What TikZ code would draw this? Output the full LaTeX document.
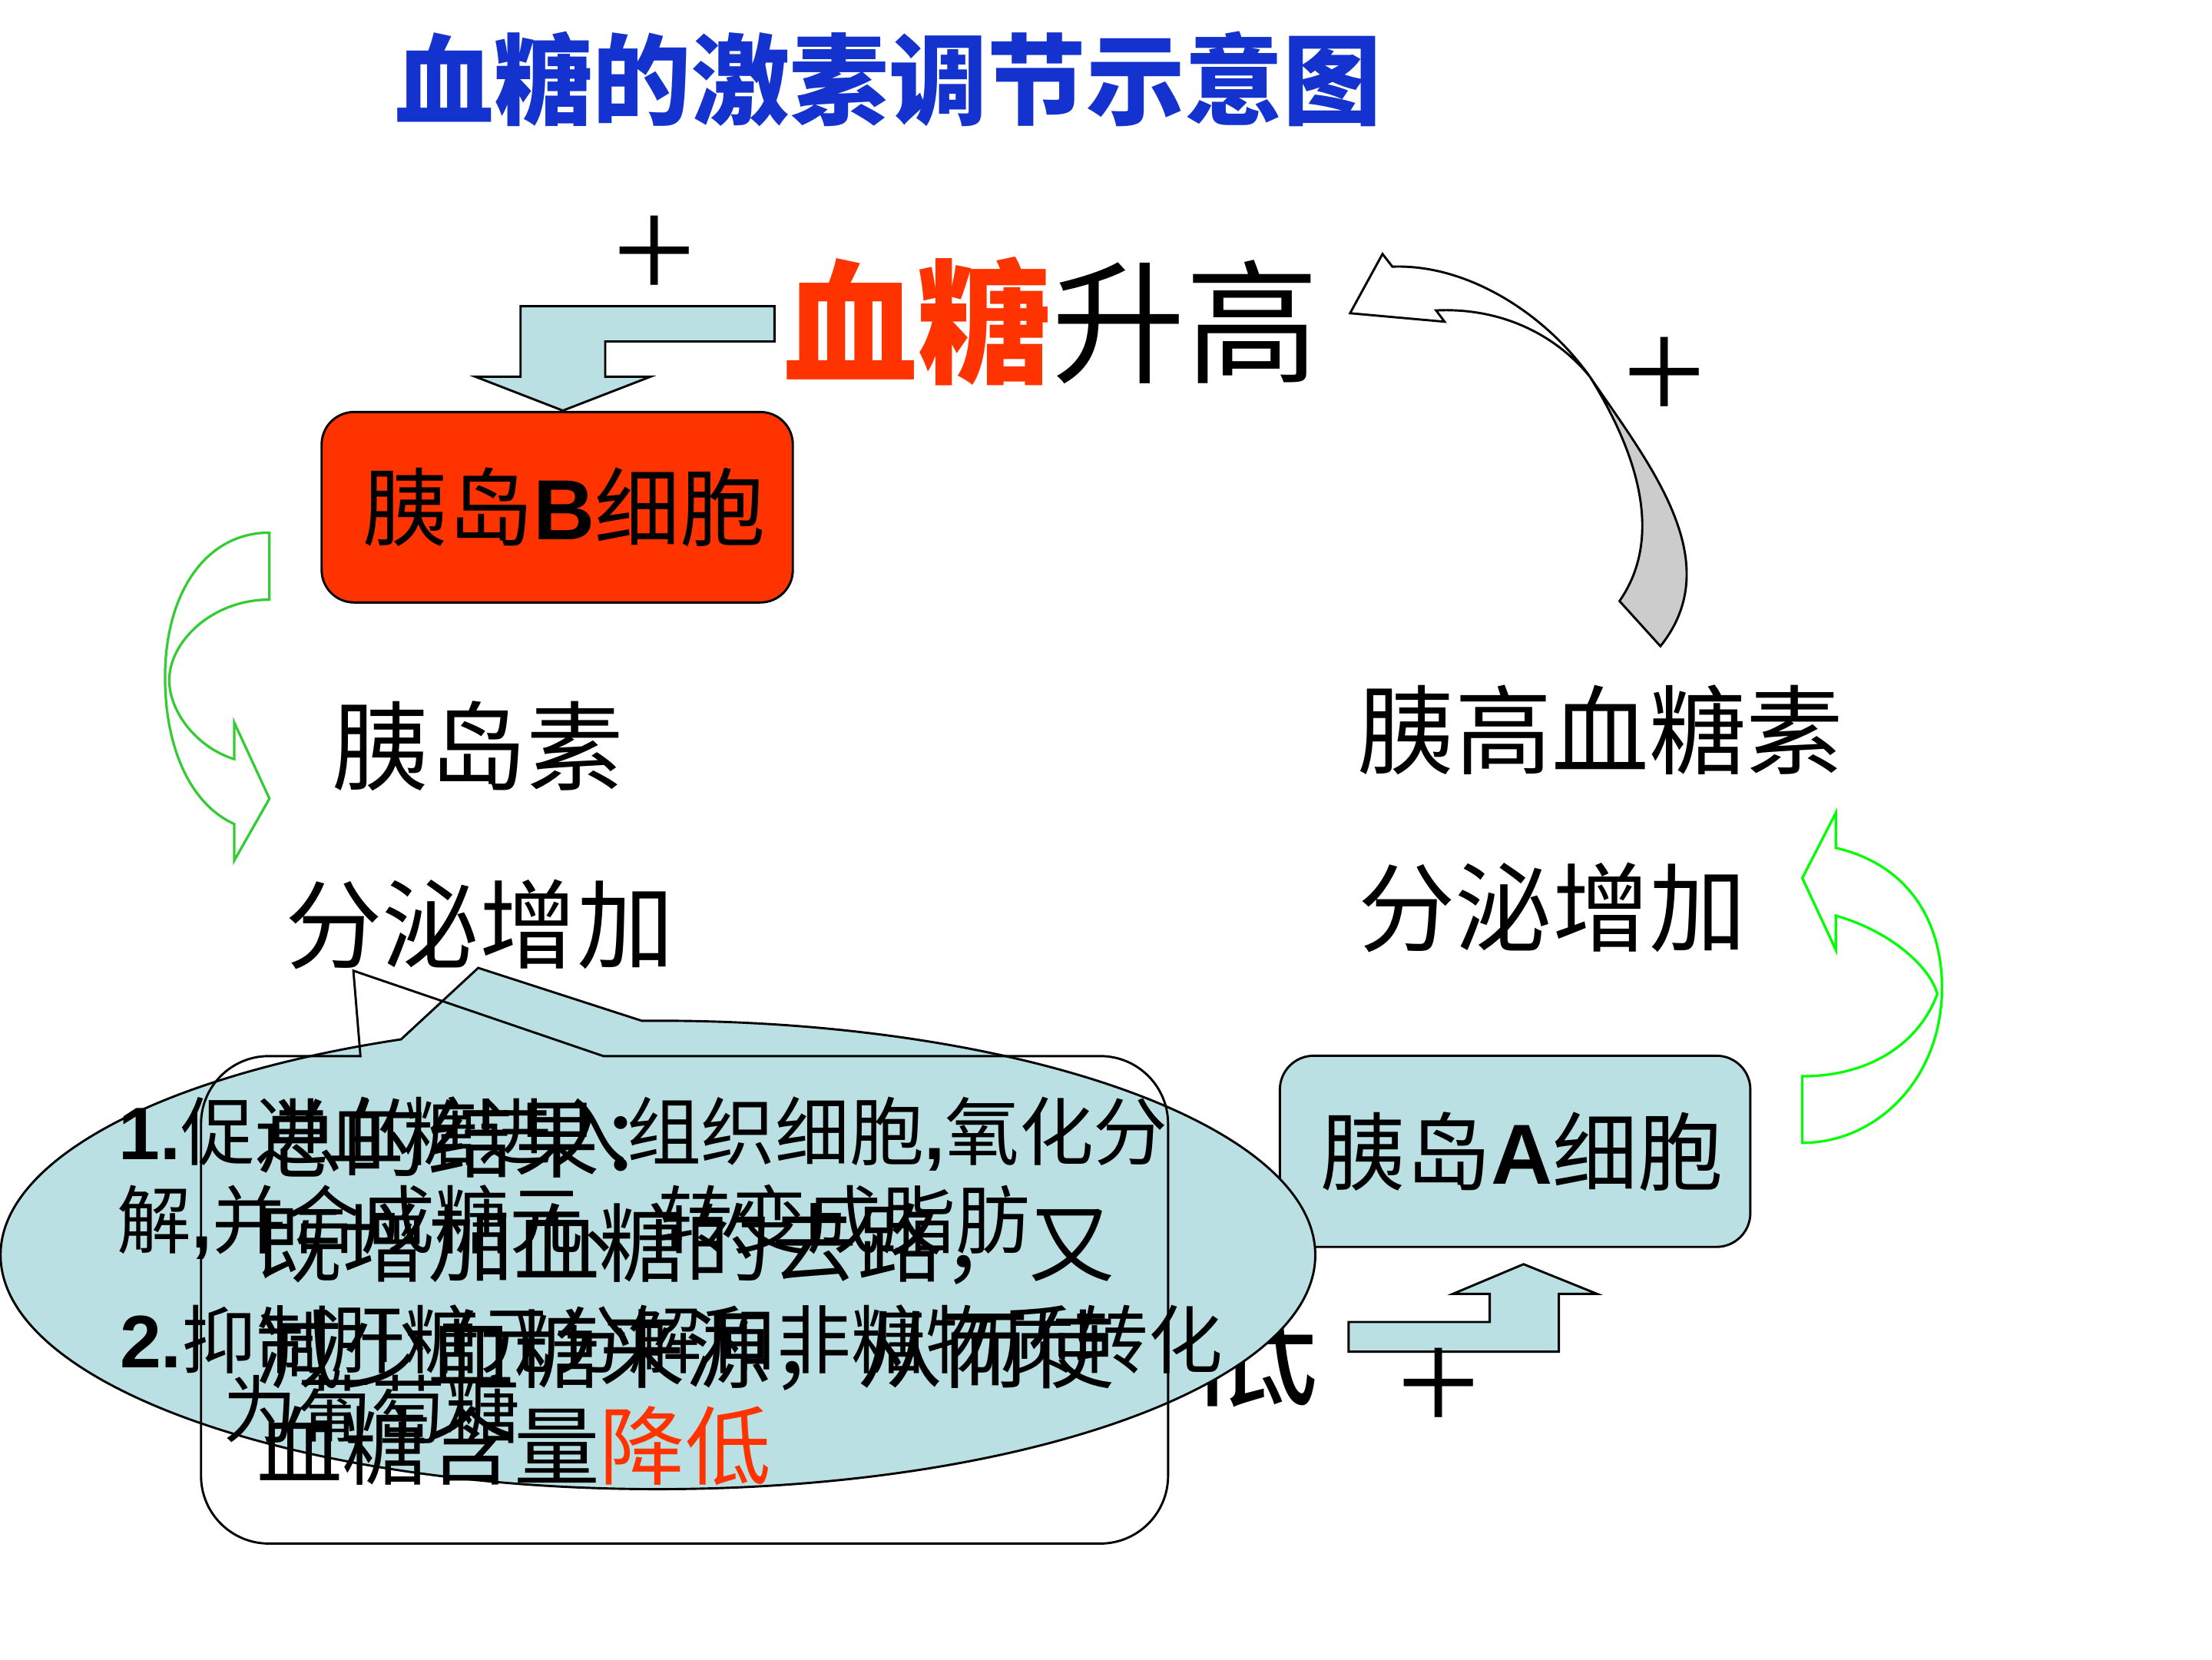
\documentclass[tikz,border=0pt]{standalone}
\usepackage{fontspec}
\setmainfont{Liberation Sans}
\newfontfamily\cjk{Noto Sans CJK SC}
\newfontfamily\lat{Liberation Sans}
\newfontfamily\tms{Liberation Serif}
\definecolor{titleblue}{RGB}{20,50,205}
\definecolor{ppred}{HTML}{FF3300}
\definecolor{ltblue}{HTML}{BBE0E3}
\definecolor{greyfill}{HTML}{CCCCCC}
\definecolor{greenL}{HTML}{33CC33}
\definecolor{greenR}{HTML}{00FF00}
\begin{document}
\begin{tikzpicture}[x=0.1mm,y=-0.1mm,line join=miter,
  txt/.style={inner sep=0pt,outer sep=0pt},
  outl/.style={draw=black,line width=0.45pt},
  plussign/.style={inner sep=0pt,outer sep=0pt,font=\tms\fontsize{30}{30}\selectfont},
  cellbox/.style={outl,rounded corners=2.3mm,inner sep=0pt,minimum width=33.4mm,minimum height=13.5mm,font=\cjk\fontsize{17.2}{17.2}\selectfont}]
\useasboundingbox (0,0) rectangle (1568,1176);
\fill[white] (0,0) rectangle (1568,1176);

% title
\node[txt,text=titleblue,font=\cjk\bfseries\fontsize{19.9}{20}\selectfont] (title) at (630,56) {血糖的激素调节示意图};

% blood sugar rises
\node[txt,font=\cjk\fontsize{27}{27}\selectfont] (rise) at (745.5,227.5) {{\bfseries\color{ppred}血糖}升高};
\node[plussign] (p1) at (464,183) {+};

% bent arrow down to B cell
\filldraw[outl,fill=ltblue] (549,217) -- (369,217) -- (369,267) -- (337,267) -- (399,291) -- (461,267) -- (429,267) -- (429,242) -- (549,242) -- cycle;

% B cell
\node[cellbox,fill=ppred] (bcell) at (395,359.5) {\hspace*{1mm}胰岛{\lat\bfseries B}细胞};

% left green curved arrow
\draw[draw=greenL,line width=0.5pt] (191,377.5) -- (191,425) .. controls (150,425) and (120,455) .. (120,482) .. controls (120,505) and (140,530) .. (166,538) -- (166,512) -- (191,566) -- (166,610) -- (166,584) .. controls (135,570) and (117,530) .. (117,480) .. controls (117,420) and (146,377.5) .. cycle;

\node[txt,font=\cjk\fontsize{19.6}{19.6}\selectfont] (insulin) at (339,529) {胰岛素};
\node[txt,font=\cjk\fontsize{19.6}{19.6}\selectfont] (secL) at (340,655) {分泌增加};

% right side
\node[txt,font=\cjk\fontsize{19.6}{19.6}\selectfont] (glucagon) at (1134.5,517.5) {胰高血糖素};
\node[txt,font=\cjk\fontsize{19.6}{19.6}\selectfont] (secR) at (1100.5,643.5) {分泌增加};
\node[plussign] (p2) at (1180,269) {+};

% big curved arrow (white head, grey tail)
\filldraw[outl,fill=white] (980,180) -- (987,189) .. controls (1040,187) and (1095,222) .. (1127,267) .. controls (1100,234) and (1060,218) .. (1018,220) -- (1024,228) -- (957,222) -- cycle;
\filldraw[outl,fill=greyfill] (1127,267) .. controls (1170,330) and (1225,398) .. (1177,458) -- (1148,426) .. controls (1180,380) and (1160,320) .. (1127,267) -- cycle;

% right green curved arrow
\draw[draw=greenR,line width=0.5pt] (1277.6,810) -- (1277.6,762.8) .. controls (1325,762.8) and (1360,740) .. (1373.3,704.5) .. controls (1368,685) and (1340,660) .. (1301.4,649) -- (1301.4,673.4) -- (1277.6,622.3) -- (1301.4,576) -- (1301.4,601) .. controls (1350,612) and (1376.6,650) .. (1376.6,700) .. controls (1376.6,765) and (1330,810) .. cycle;

% A cell
\node[cellbox,fill=ltblue,minimum width=33.35mm,minimum height=13.55mm,rounded corners=2.4mm] (acell) at (1074,816) {\hspace*{1mm}胰岛{\lat\bfseries A}细胞};

% bent arrow up to A cell
\filldraw[outl,fill=ltblue] (956,937) -- (1056,937) -- (1056,917) -- (1030,917) -- (1080,896) -- (1132,917) -- (1105,917) -- (1105,958) -- (956,958) -- cycle;
\node[plussign] (p3) at (1020,985.5) {+};

% blood sugar falls (mostly hidden behind the ellipse)
\node[txt,font=\cjk\fontsize{27}{27}\selectfont] (fall) at (745.5,953) {{\bfseries\color{ppred}血糖}降低};

% ellipse callout
\filldraw[outl,fill=ltblue] (455,723.5) arc[start angle=-91.4,end angle=247,x radius=466,y radius=166] -- (339,686) -- cycle;
\node[txt,anchor=base west,font=\cjk\fontsize{15}{15}\selectfont] (e1) at (84,822) {{\lat\bfseries 1.}促进血糖进入组织细胞{\lat\bfseries ,}氧化分};
\node[txt,anchor=base west,font=\cjk\fontsize{15}{15}\selectfont] (e2) at (83,884.6) {解{\lat\bfseries ,}并合成糖元、转变成脂肪};
\node[txt,anchor=base west,font=\cjk\fontsize{15}{15}\selectfont] (e3) at (85,969.5) {{\lat\bfseries 2.}抑制肝糖元分解和非糖物质转化};
\node[txt,anchor=base west,font=\cjk\fontsize{15}{15}\selectfont] (e4) at (158,1019) {为葡萄糖};

% rounded-rectangle callout (no fill)
\draw[outl] (255.5,748.5) -- (250.5,688) -- (427.7,748.5) -- (780,748.5) .. controls (806.5,748.5) and (828,770) .. (828,796.5) -- (828,1046) .. controls (828,1072.5) and (806.5,1094) .. (780,1094) -- (190.5,1094) .. controls (164,1094) and (142.5,1072.5) .. (142.5,1046) -- (142.5,796.5) .. controls (142.5,770) and (164,748.5) .. (190.5,748.5) -- cycle;
\node[txt,anchor=base west,font=\cjk\fontsize{17.3}{17.3}\selectfont] (r1) at (182,830) {总的结果：};
\node[txt,anchor=base west,font=\cjk\fontsize{17.3}{17.3}\selectfont] (r2) at (182,904) {既增加血糖的去路，又};
\node[txt,anchor=base west,font=\cjk\fontsize{17.3}{17.3}\selectfont] (r3) at (182,979) {减少血糖来源，从而使};
\node[txt,anchor=base west,font=\cjk\fontsize{17.3}{17.3}\selectfont] (r4) at (182,1048) {血糖含量{\color{ppred}降低}};
\end{tikzpicture}
\end{document}
